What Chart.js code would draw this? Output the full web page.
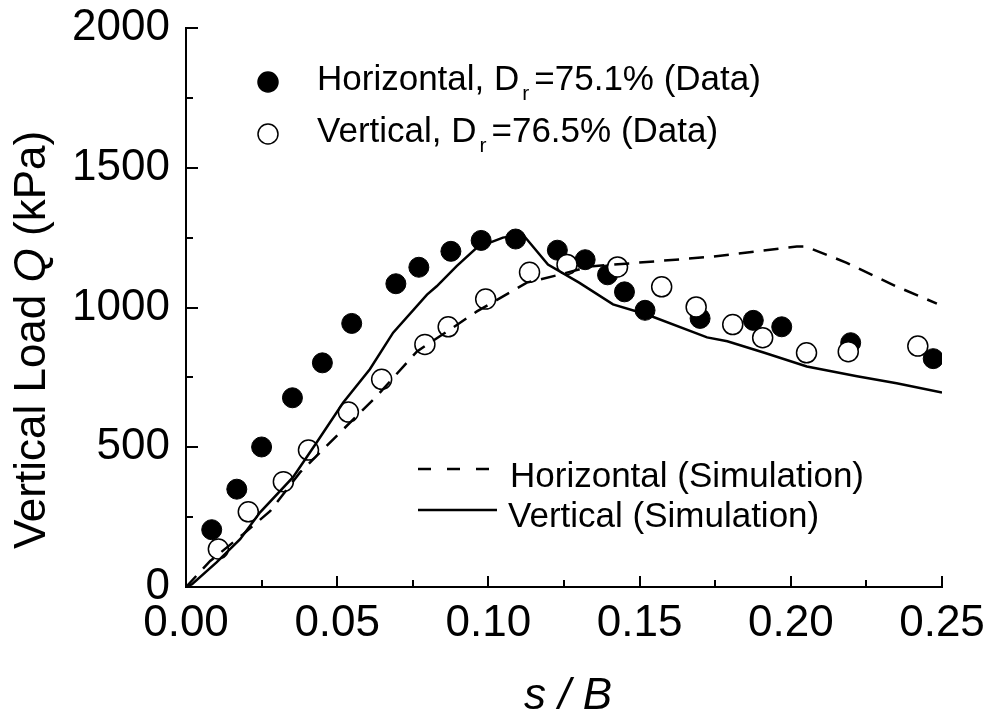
<!DOCTYPE html>
<html>
<head>
<meta charset="utf-8">
<script src="https://cdn.jsdelivr.net/npm/chart.js@4.4.1/dist/chart.umd.min.js"></script>
<style>
  html, body { margin: 0; padding: 0; background: #fff; }
  canvas { display: block; }
</style>
</head>
<body>
<canvas id="loadChart" width="990" height="717"></canvas>
<script>
// tick values
var xTicks = [0, 0.05, 0.10, 0.15, 0.20, 0.25];
var yTicks = [0, 500, 1000, 1500, 2000];

// Horizontal footing, Dr = 75.1% (data)
var hDataX = [0.0085, 0.0168, 0.025, 0.0352, 0.0451, 0.0548, 0.0694, 0.077, 0.0876, 0.0976, 0.109,
              0.1228, 0.132, 0.1394, 0.145, 0.1518, 0.170, 0.1876, 0.197, 0.2198, 0.2471];
var hDataY = [205, 350, 501, 677, 802, 943, 1085, 1144, 1201, 1240, 1245,
              1205, 1171, 1117, 1056, 990, 961, 954, 931, 874, 817];

// Vertical footing, Dr = 76.5% (data)
var vDataX = [0.0107, 0.0206, 0.0322, 0.0405, 0.0537, 0.0647, 0.079, 0.0867, 0.0991, 0.1136,
              0.126, 0.1427, 0.1573, 0.1687, 0.1808, 0.1907, 0.2052, 0.219, 0.242];
var vDataY = [136, 269, 377, 490, 626, 743, 868, 931, 1030, 1126,
              1154, 1145, 1074, 1002, 939, 892, 838, 842, 862];

// Horizontal (simulation)
var hSimX = [0, 0.008, 0.0189, 0.0278, 0.0377, 0.052, 0.063, 0.0764, 0.0873, 0.0962, 0.1127,
             0.1237, 0.1336, 0.148, 0.1743, 0.202, 0.205, 0.2185, 0.235, 0.2483];
var hSimY = [0, 93, 189, 271, 410, 564, 682, 843, 921, 986, 1089,
             1118, 1147, 1159, 1182, 1218, 1218, 1160, 1075, 1014];

// Vertical (simulation)
var vSimX = [0, 0.002, 0.0101, 0.0179, 0.0245, 0.0354, 0.0432, 0.052, 0.0608, 0.0685, 0.0797, 0.0829,
             0.0895, 0.0962, 0.1048, 0.1114, 0.1197, 0.130, 0.1412, 0.1524, 0.1723, 0.179, 0.191,
             0.2053, 0.2219, 0.235, 0.25];
var vSimY = [0, 10, 88, 171, 267, 393, 517, 660, 779, 910, 1046, 1076,
             1148, 1214, 1250, 1261, 1154, 1089, 1011, 975, 893, 879, 839,
             789, 754, 729, 696];

var FONT = '"Liberation Sans", Arial, sans-serif';

function pairs(xs, ys) {
    return xs.map(function (x, i) { return { x: x, y: ys[i] }; });
}

// inward ticks, axis titles and the two legend blocks
var decor = {
    id: 'decor',
    afterDraw: function (chart) {
        var ctx = chart.ctx;
        var xs = chart.scales.x, ys = chart.scales.y;
        var area = chart.chartArea;
        ctx.save();
        ctx.strokeStyle = '#000';
        ctx.fillStyle = '#000';
        ctx.lineWidth = 2;

        // x ticks (major every 0.05, minor halfway)
        for (var i = 0; i <= 10; i++) {
            var v = i * 0.025;
            var px = Math.round(xs.getPixelForValue(v));
            var len = (i % 2 === 0) ? 11 : 7;
            ctx.beginPath();
            ctx.moveTo(px, area.bottom);
            ctx.lineTo(px, area.bottom - len);
            ctx.stroke();
        }
        // y ticks (major every 500, minor halfway)
        for (var j = 0; j <= 8; j++) {
            var py = Math.round(ys.getPixelForValue(j * 250));
            var ylen = (j % 2 === 0) ? 12 : 7;
            ctx.beginPath();
            ctx.moveTo(area.left, py);
            ctx.lineTo(area.left + ylen, py);
            ctx.stroke();
        }

        // y title: Vertical Load Q (kPa)
        ctx.save();
        ctx.translate(45, 340);
        ctx.rotate(-Math.PI / 2);
        ctx.textBaseline = 'alphabetic';
        ctx.textAlign = 'left';
        var parts = [['Vertical Load ', 'normal'], ['Q', 'italic'], [' (kPa)', 'normal']];
        var total = 0;
        parts.forEach(function (p) {
            ctx.font = p[1] + ' 44px ' + FONT;
            total += ctx.measureText(p[0]).width;
        });
        var cx = -total / 2;
        parts.forEach(function (p) {
            ctx.font = p[1] + ' 44px ' + FONT;
            ctx.fillText(p[0], cx, 0);
            cx += ctx.measureText(p[0]).width;
        });
        ctx.restore();

        // x title: s / B
        ctx.font = 'italic 44px ' + FONT;
        ctx.textAlign = 'center';
        ctx.textBaseline = 'alphabetic';
        ctx.fillText('s / B', (area.left + area.right) / 2 + 4, 709);

        // data legend (top left)
        var rows = [
            { y: 90, my: 82, fill: '#000', head: 'Horizontal, D', tail: '=75.1% (Data)' },
            { y: 142, my: 134, fill: '#fff', head: 'Vertical, D', tail: '=76.5% (Data)' }
        ];
        rows.forEach(function (r) {
            ctx.beginPath();
            ctx.arc(268, r.my, 10, 0, Math.PI * 2);
            ctx.fillStyle = r.fill;
            ctx.fill();
            ctx.lineWidth = 1.5;
            ctx.strokeStyle = '#000';
            ctx.stroke();
            ctx.fillStyle = '#000';
            ctx.textAlign = 'left';
            ctx.font = '35px ' + FONT;
            var tx = 317;
            ctx.fillText(r.head, tx, r.y);
            tx += ctx.measureText(r.head).width + 3;
            ctx.font = '21px ' + FONT;
            ctx.fillText('r', tx, r.y + 10);
            tx += ctx.measureText('r').width + 5;
            ctx.font = '35px ' + FONT;
            ctx.fillText(r.tail, tx, r.y);
        });

        // simulation legend (lower middle)
        ctx.lineWidth = 2.5;
        ctx.setLineDash([13, 16]);
        ctx.beginPath();
        ctx.moveTo(418, 469);
        ctx.lineTo(490, 469);
        ctx.stroke();
        ctx.setLineDash([]);
        ctx.beginPath();
        ctx.moveTo(418, 510);
        ctx.lineTo(497, 510);
        ctx.stroke();
        ctx.font = '35px ' + FONT;
        ctx.fillText('Horizontal (Simulation)', 510, 487);
        ctx.fillText('Vertical (Simulation)', 508, 527);

        ctx.restore();
    }
};

var ctx = document.getElementById('loadChart').getContext('2d');
var chart = new Chart(ctx, {
    type: 'scatter',
    data: {
        datasets: [{
            label: 'Horizontal (Simulation)',
            data: pairs(hSimX, hSimY),
            showLine: true,
            borderColor: '#000',
            borderWidth: 2.5,
            borderDash: [15, 10],
            pointRadius: 0,
            tension: 0,
            order: 0
        }, {
            label: 'Vertical (Simulation)',
            data: pairs(vSimX, vSimY),
            showLine: true,
            borderColor: '#000',
            borderWidth: 2.5,
            pointRadius: 0,
            tension: 0,
            order: 0
        }, {
            label: 'Vertical, Dr=76.5% (Data)',
            data: pairs(vDataX, vDataY),
            pointRadius: 10,
            pointBackgroundColor: '#fff',
            pointBorderColor: '#000',
            pointBorderWidth: 1.5,
            order: 1
        }, {
            label: 'Horizontal, Dr=75.1% (Data)',
            data: pairs(hDataX, hDataY),
            pointRadius: 10,
            pointBackgroundColor: '#000',
            pointBorderColor: '#000',
            pointBorderWidth: 1,
            order: 2
        }]
    },
    options: {
        responsive: false,
        animation: false,
        layout: { padding: { top: 28, right: 48, left: 0, bottom: 0 } },
        plugins: {
            legend: { display: false },
            tooltip: { enabled: false }
        },
        scales: {
            x: {
                type: 'linear',
                min: 0,
                max: 0.25,
                afterFit: function (s) {
                    s.height = 130;
                    s.paddingLeft = 0;
                    s.paddingRight = 0;
                },
                afterBuildTicks: function (s) {
                    s.ticks = xTicks.map(function (v) { return { value: v }; });
                },
                ticks: {
                    callback: function (v) { return Number(v).toFixed(2); },
                    font: { family: FONT, size: 44 },
                    color: '#000',
                    padding: 10,
                    maxRotation: 0,
                    autoSkip: false
                },
                grid: { display: false, drawTicks: false },
                border: { display: true, color: '#000', width: 2 }
            },
            y: {
                type: 'linear',
                min: 0,
                max: 2000,
                afterFit: function (s) {
                    s.width = 186;
                    s.paddingTop = 0;
                    s.paddingBottom = 0;
                },
                afterBuildTicks: function (s) {
                    s.ticks = yTicks.map(function (v) { return { value: v }; });
                },
                ticks: {
                    callback: function (v) { return String(v); },
                    font: { family: FONT, size: 44 },
                    color: '#000',
                    padding: 16,
                    autoSkip: false
                },
                grid: { display: false, drawTicks: false },
                border: { display: true, color: '#000', width: 2 }
            }
        }
    },
    plugins: [decor]
});
</script>
</body>
</html>
